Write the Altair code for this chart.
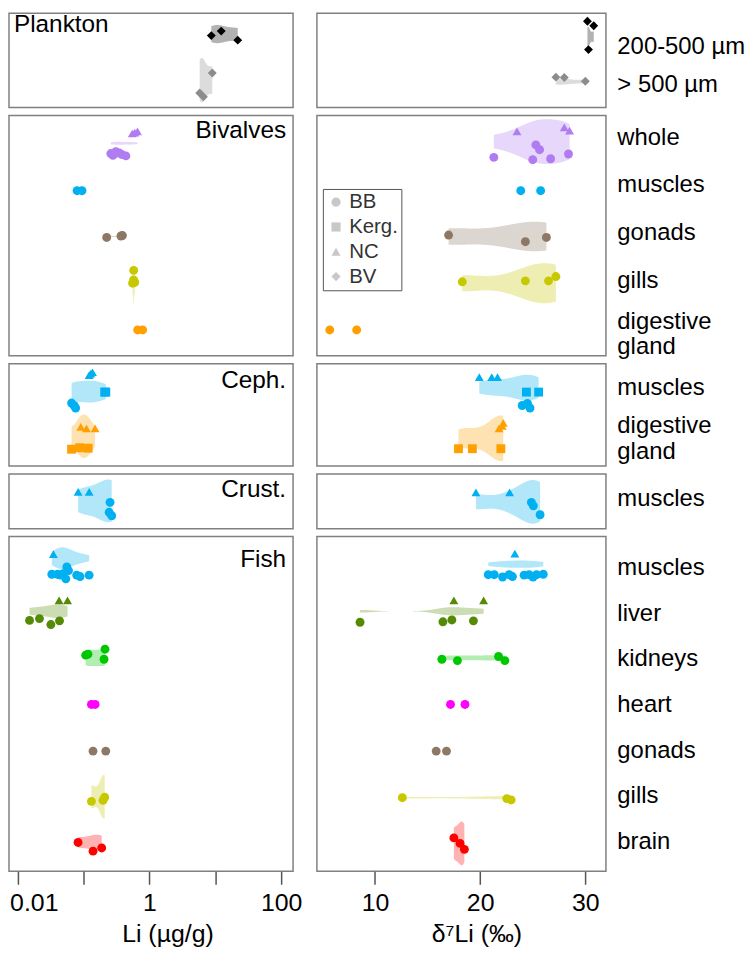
import altair as alt
import pandas as pd

FONT = "Liberation Sans"

# ---------------- categories / styles ----------------
SITES = ["BB", "Kerg.", "NC", "BV"]
SITE_SHAPES = ["circle", "square", "triangle-up", "diamond"]

ORGANS = ["200-500 µm", "> 500 µm", "whole", "muscles", "gonads", "gills",
          "digestive gland", "liver", "kidneys", "heart", "brain"]
ORGAN_COLORS = ["#000000", "#8c8c8c", "#b07cf2", "#00b0f0", "#8c7864", "#c8c800",
                "#ffa000", "#558a05", "#00c800", "#ff00ff", "#ff0000"]
COLOR_OF = dict(zip(ORGANS, ORGAN_COLORS))

GROUP_NAMES = ["Plankton", "Bivalves", "Ceph.", "Crust.", "Fish"]

PLANKTON_ROWS = ["200-500 µm", "> 500 µm"]
BIVALVE_ROWS = ["whole", "muscles", "gonads", "gills", "digestive gland"]
CEPH_ROWS = ["muscles", "digestive gland"]
CRUST_ROWS = ["muscles"]
FISH_ROWS = ["muscles", "liver", "kidneys", "heart", "gonads", "gills", "brain"]

# ---------------- data: (row, site, value, vertical jitter in row units) ----------------
PLANKTON_LI = [
    ("200-500 µm", "BV", 8.7, -0.30), ("200-500 µm", "BV", 12.3, -0.42), ("200-500 µm", "BV", 21.9, -0.18),
    ("> 500 µm", "BV", 9.0, -0.31), ("> 500 µm", "BV", 5.8, 0.22), ("> 500 µm", "BV", 6.6, 0.32),
]
PLANKTON_D7 = [
    ("200-500 µm", "BV", 30.2, -0.68), ("200-500 µm", "BV", 30.8, -0.56), ("200-500 µm", "BV", 30.3, 0.07),
    ("> 500 µm", "BV", 27.2, -0.20), ("> 500 µm", "BV", 28.0, -0.19), ("> 500 µm", "BV", 30.0, -0.09),
]

BIVALVE_LI = [
    ("whole", "NC", 0.55, -0.08), ("whole", "NC", 0.60, -0.10), ("whole", "NC", 0.66, -0.125),
    ("whole", "BB", 0.26, 0.34), ("whole", "BB", 0.28, 0.38), ("whole", "BB", 0.31, 0.30),
    ("whole", "BB", 0.35, 0.33), ("whole", "BB", 0.38, 0.36), ("whole", "BB", 0.44, 0.39),
    ("muscles", "BB", 0.080, 0.12), ("muscles", "BB", 0.095, 0.12),
    ("gonads", "BB", 0.225, 0.10), ("gonads", "BB", 0.37, 0.07), ("gonads", "BB", 0.39, 0.06),
    ("gills", "BB", 0.578, -0.21), ("gills", "BB", 0.575, -0.01), ("gills", "BB", 0.60, 0.04),
    ("gills", "BB", 0.556, 0.06),
    ("digestive gland", "BB", 0.665, 0.04), ("digestive gland", "BB", 0.79, 0.04),
]
BIVALVE_D7 = [
    ("whole", "NC", 23.5, -0.125), ("whole", "NC", 28.0, -0.21), ("whole", "NC", 28.5, -0.14),
    ("whole", "BB", 21.3, 0.42), ("whole", "BB", 25.3, 0.16), ("whole", "BB", 25.65, 0.26),
    ("whole", "BB", 25.0, 0.47), ("whole", "BB", 26.7, 0.45), ("whole", "BB", 28.4, 0.35),
    ("muscles", "BB", 23.86, 0.12), ("muscles", "BB", 25.75, 0.12),
    ("gonads", "BB", 17.0, 0.05), ("gonads", "BB", 24.3, 0.19), ("gonads", "BB", 26.3, 0.10),
    ("gills", "BB", 18.3, 0.03), ("gills", "BB", 24.3, 0.01), ("gills", "BB", 26.5, 0.01),
    ("gills", "BB", 27.2, -0.08),
    ("digestive gland", "BB", 5.7, 0.04), ("digestive gland", "BB", 8.26, 0.04),
]

CEPH_LI = [
    ("muscles", "NC", 0.122, -0.25), ("muscles", "NC", 0.137, -0.31), ("muscles", "NC", 0.129, -0.28),
    ("muscles", "Kerg.", 0.218, 0.09), ("muscles", "Kerg.", 0.21, 0.09),
    ("muscles", "BB", 0.066, 0.31), ("muscles", "BB", 0.076, 0.41), ("muscles", "BB", 0.072, 0.36),
    ("digestive gland", "NC", 0.091, -0.21), ("digestive gland", "NC", 0.111, -0.18),
    ("digestive gland", "NC", 0.15, -0.18),
    ("digestive gland", "Kerg.", 0.066, 0.24), ("digestive gland", "Kerg.", 0.088, 0.21),
    ("digestive gland", "Kerg.", 0.118, 0.22),
]
CEPH_D7 = [
    ("muscles", "NC", 19.92, -0.21), ("muscles", "NC", 21.1, -0.21), ("muscles", "NC", 21.65, -0.21),
    ("muscles", "Kerg.", 24.4, 0.09), ("muscles", "Kerg.", 25.56, 0.09),
    ("muscles", "BB", 24.0, 0.36), ("muscles", "BB", 24.5, 0.32), ("muscles", "BB", 24.74, 0.41),
    ("digestive gland", "NC", 22.2, -0.29), ("digestive gland", "NC", 21.8, -0.18),
    ("digestive gland", "NC", 22.1, -0.23),
    ("digestive gland", "Kerg.", 17.94, 0.23), ("digestive gland", "Kerg.", 19.26, 0.23),
    ("digestive gland", "Kerg.", 21.97, 0.23),
]

CRUST_LI = [
    ("muscles", "NC", 0.083, -0.14), ("muscles", "NC", 0.122, -0.14),
    ("muscles", "BB", 0.253, 0.07), ("muscles", "BB", 0.245, 0.27), ("muscles", "BB", 0.268, 0.34),
]
CRUST_D7 = [
    ("muscles", "NC", 19.6, -0.13), ("muscles", "NC", 22.8, -0.13),
    ("muscles", "BB", 24.87, 0.07), ("muscles", "BB", 25.06, 0.14), ("muscles", "BB", 25.7, 0.32),
]

FISH_LI = [
    ("muscles", "NC", 0.035, -0.29),
    ("muscles", "BB", 0.0331, 0.15), ("muscles", "BB", 0.0404, 0.15), ("muscles", "BB", 0.0442, 0.17),
    ("muscles", "BB", 0.0485, 0.14), ("muscles", "BB", 0.054, 0.25), ("muscles", "BB", 0.0559, -0.01),
    ("muscles", "BB", 0.0593, 0.07), ("muscles", "BB", 0.079, 0.17), ("muscles", "BB", 0.0887, 0.20),
    ("muscles", "BB", 0.1217, 0.17),
    ("liver", "NC", 0.0427, -0.28), ("liver", "NC", 0.0573, -0.28),
    ("liver", "BB", 0.0152, 0.16), ("liver", "BB", 0.0215, 0.12), ("liver", "BB", 0.032, 0.25),
    ("liver", "BB", 0.0433, 0.17),
    ("kidneys", "BB", 0.108, -0.08), ("kidneys", "BB", 0.117, -0.10), ("kidneys", "BB", 0.212, -0.21),
    ("kidneys", "BB", 0.205, 0.01),
    ("heart", "BB", 0.132, 0.0), ("heart", "BB", 0.15, 0.0),
    ("gonads", "BB", 0.1396, 0.02), ("gonads", "BB", 0.218, 0.02),
    ("gills", "BB", 0.132, 0.12), ("gills", "BB", 0.198, 0.10), ("gills", "BB", 0.21, 0.03),
    ("brain", "BB", 0.0828, 0.02), ("brain", "BB", 0.1397, 0.21), ("brain", "BB", 0.189, 0.14),
]
FISH_D7 = [
    ("muscles", "NC", 23.3, -0.30),
    ("muscles", "BB", 20.77, 0.16), ("muscles", "BB", 21.34, 0.16), ("muscles", "BB", 22.13, 0.21),
    ("muscles", "BB", 22.76, 0.16), ("muscles", "BB", 23.07, 0.20), ("muscles", "BB", 24.18, 0.17),
    ("muscles", "BB", 24.65, 0.16), ("muscles", "BB", 25.03, 0.21), ("muscles", "BB", 25.37, 0.16),
    ("muscles", "BB", 26.0, 0.15),
    ("liver", "NC", 17.5, -0.28), ("liver", "NC", 20.33, -0.28),
    ("liver", "BB", 8.58, 0.20), ("liver", "BB", 16.46, 0.19), ("liver", "BB", 17.31, 0.15),
    ("liver", "BB", 19.36, 0.17),
    ("kidneys", "BB", 16.36, 0.01), ("kidneys", "BB", 17.84, 0.04), ("kidneys", "BB", 21.75, -0.05),
    ("kidneys", "BB", 22.35, 0.04),
    ("heart", "BB", 17.18, 0.0), ("heart", "BB", 18.56, 0.0),
    ("gonads", "BB", 15.82, 0.02), ("gonads", "BB", 16.8, 0.02),
    ("gills", "BB", 12.6, 0.04), ("gills", "BB", 22.53, 0.06), ("gills", "BB", 22.95, 0.09),
    ("brain", "BB", 17.5, -0.08), ("brain", "BB", 18.09, 0.04), ("brain", "BB", 18.5, 0.17),
]

# violins: (row, centre offset, max half-width), in row units
PLANKTON_LI_VIOLIN = [("200-500 µm", -0.34, 0.24), ("> 500 µm", -0.12, 0.59)]
PLANKTON_D7_VIOLIN = [("200-500 µm", -0.27, 0.26), ("> 500 µm", -0.08, 0.08)]
BIVALVE_LI_VIOLIN = [("whole", 0.125, 0.03), ("gonads", 0.08, 0.02), ("gills", 0.05, 0.49)]
BIVALVE_D7_VIOLIN = [("whole", 0.09, 0.47), ("gonads", 0.08, 0.31), ("gills", 0.06, 0.42)]
CEPH_LI_VIOLIN = [("muscles", 0.08, 0.22), ("digestive gland", -0.02, 0.44)]
CEPH_D7_VIOLIN = [("muscles", 0.0, 0.26), ("digestive gland", 0.02, 0.46)]
CRUST_LI_VIOLIN = [("muscles", 0.04, 0.43)]
CRUST_D7_VIOLIN = [("muscles", 0.06, 0.44)]
FISH_LI_VIOLIN = [("muscles", -0.2, 0.24), ("liver", -0.04, 0.15), ("kidneys", -0.02, 0.18),
                  ("gills", 0.02, 0.48), ("brain", 0.02, 0.17)]
FISH_D7_VIOLIN = [("muscles", -0.07, 0.08), ("liver", -0.04, 0.09), ("kidneys", -0.02, 0.055),
                  ("gills", 0.04, 0.035), ("brain", 0.04, 0.48)]

# y extent of each group panel (row units) and panel heights
Y_DOMAINS = [(-0.895, 1.605), (-0.458, 4.583), (-0.48, 1.58), (-0.5, 0.6), (-0.674, 6.652)]
HEIGHTS = [95, 242, 103, 55, 337]
# vertical nudge of the two-line "digestive gland" label per group
MULTILINE_NUDGE = [0, -7, -12, 0, 0]

LI_DOMAIN = [10 ** -2.13, 10 ** 2.18]
D7_DOMAIN = [4.48, 31.96]
LEFT_W = 286
RIGHT_W = 291

LI_TICKS = [0.01, 0.1, 1, 10, 100]
D7_TICKS = [10, 20, 30]

# group label placement inside the left panels: (align, x, y-top)
LABEL_POS = [("left", 5, 0), ("right", 279, 4), ("right", 279, 5), ("right", 279, 4), ("right", 279, 12)]


def label_expr(rows):
    parts = []
    for r in rows:
        if r == "digestive gland":
            parts.append("['digestive','gland']")
        else:
            parts.append("'" + r + "'")
    return "[" + ",".join(parts) + "][datum.value]"


def make_panel(gi, rows, pts, violins, log, is_left, bottom, show_legend):
    df = pd.DataFrame(pts, columns=["organ", "site", "value", "jit"])
    df["pos"] = df["organ"].map(lambda o: rows.index(o)) + df["jit"]

    yscale = alt.Scale(domain=list(Y_DOMAINS[gi]), reverse=True, nice=False, zero=False)
    if is_left:
        yaxis = None
    else:
        multi = [i for i, r in enumerate(rows) if r == "digestive gland"]
        offset = {"condition": {"test": f"datum.value == {multi[0]}", "value": MULTILINE_NUDGE[gi]},
                  "value": 0} if multi else 0
        yaxis = alt.Axis(orient="right", values=list(range(len(rows))), labelExpr=label_expr(rows),
                         ticks=False, tickSize=0, domain=False, grid=False, title=None,
                         labelFontSize=24, labelPadding=11, labelAlign="left", labelBaseline="middle",
                         labelLimit=300, labelLineHeight=26, labelColor="black", labelFont=FONT,
                         labelOffset=offset)

    if log:
        xscale = alt.Scale(type="log", domain=LI_DOMAIN, nice=False)
    else:
        xscale = alt.Scale(domain=D7_DOMAIN, nice=False, zero=False)

    if bottom:
        if log:
            xaxis = alt.Axis(values=LI_TICKS,
                             labelExpr="datum.value < 0.05 ? '0.01' : (datum.value > 0.5 && datum.value < 2 ? '1' : (datum.value > 50 ? '100' : ''))",
                             title="Li (µg/g)", titleX=159.5, labelFlush=10, labelFlushOffset=8,
                             tickSize=13, grid=False, domain=False)
        else:
            xaxis = alt.Axis(values=D7_TICKS, format="d", title="δ⁷Li (‰)", titleX=160.5,
                             labelFlush=False, tickSize=13, grid=False, domain=False)
    else:
        xaxis = None

    layers = []
    for organ, vc, hw in violins:
        sub = df[df.organ == organ][["value"]]
        base = alt.Chart(sub)
        if log:
            base = base.transform_calculate(v="log(datum.value)/LN10")
        else:
            base = base.transform_calculate(v="datum.value")
        centre = rows.index(organ) + vc
        xexpr = "pow(10, datum.v)" if log else "datum.v"
        area = (base.transform_density("v", as_=["v", "dens"])
                .transform_joinaggregate(dmax="max(dens)")
                .transform_calculate(xv=xexpr,
                                     y1=f"{centre} - {hw} * datum.dens / datum.dmax",
                                     y2=f"{centre} + {hw} * datum.dens / datum.dmax")
                .mark_area(color=COLOR_OF[organ], opacity=0.3)
                .encode(x=alt.X("xv:Q", scale=xscale, axis=xaxis),
                        y=alt.Y("y1:Q", scale=yscale, axis=yaxis),
                        y2="y2:Q"))
        layers.append(area)

    if show_legend:
        legend = alt.Legend(orient="none", legendX=6, legendY=74, title=None,
                            labelFontSize=20.5, labelColor="#333333", labelFont=FONT,
                            symbolFillColor="#c8c8c8", symbolStrokeColor="#c8c8c8",
                            symbolStrokeWidth=0, symbolSize=85, symbolOpacity=1,
                            padding=3, rowPadding=4, labelOffset=3,
                            strokeColor="#555555", fillColor="white")
    else:
        legend = None

    pts_layer = (alt.Chart(df).mark_point(filled=True, size=80, opacity=1)
                 .encode(x=alt.X("value:Q", scale=xscale, axis=xaxis),
                         y=alt.Y("pos:Q", scale=yscale, axis=yaxis),
                         color=alt.Color("organ:N", scale=alt.Scale(domain=ORGANS, range=ORGAN_COLORS),
                                         legend=None),
                         shape=alt.Shape("site:N", scale=alt.Scale(domain=SITES, range=SITE_SHAPES),
                                         legend=legend)))
    layers.append(pts_layer)

    if is_left:
        align, lx, ly = LABEL_POS[gi]
        txt = (alt.Chart(pd.DataFrame({"t": [GROUP_NAMES[gi]]}))
               .mark_text(align=align, baseline="top", fontSize=24.5, font=FONT, color="black")
               .encode(text="t:N", x=alt.value(lx), y=alt.value(ly)))
        layers.append(txt)

    return alt.layer(*layers).properties(width=LEFT_W if is_left else RIGHT_W, height=HEIGHTS[gi])


GROUPS = [
    (PLANKTON_ROWS, PLANKTON_LI, PLANKTON_D7, PLANKTON_LI_VIOLIN, PLANKTON_D7_VIOLIN),
    (BIVALVE_ROWS, BIVALVE_LI, BIVALVE_D7, BIVALVE_LI_VIOLIN, BIVALVE_D7_VIOLIN),
    (CEPH_ROWS, CEPH_LI, CEPH_D7, CEPH_LI_VIOLIN, CEPH_D7_VIOLIN),
    (CRUST_ROWS, CRUST_LI, CRUST_D7, CRUST_LI_VIOLIN, CRUST_D7_VIOLIN),
    (FISH_ROWS, FISH_LI, FISH_D7, FISH_LI_VIOLIN, FISH_D7_VIOLIN),
]

panels = []
for gi, (rows, li, d7, liv, d7v) in enumerate(GROUPS):
    last = gi == len(GROUPS) - 1
    panels.append(make_panel(gi, rows, li, liv, True, True, last, False))
    panels.append(make_panel(gi, rows, d7, d7v, False, False, last, gi == 1))

chart = (alt.concat(*panels, columns=2, spacing={"row": 8, "column": 24}, bounds="flush")
         .resolve_scale(shape="independent")
         .resolve_legend(shape="independent")
         .properties(padding=0)
         .configure(font=FONT)
         .configure_view(stroke="#808080", strokeWidth=1.5)
         .configure_axis(labelFont=FONT, titleFont=FONT, labelFontSize=25, titleFontSize=25,
                         labelColor="black", titleColor="black", titleFontWeight="normal",
                         tickColor="#555555", tickWidth=1.5, labelPadding=6,
                         titleY=71, titleBaseline="alphabetic", titleAlign="center")
         .configure_legend(symbolBaseFillColor="#c8c8c8", symbolBaseStrokeColor="#c8c8c8"))

chart.save("out.html", embed_options={"renderer": "svg", "actions": False})
